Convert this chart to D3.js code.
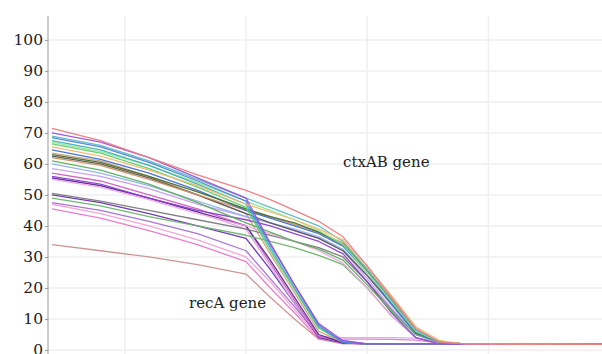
<!DOCTYPE html>
<html>
<head>
<meta charset="utf-8">
<script src="https://cdn.jsdelivr.net/npm/d3@7"></script>
<style>
  body { margin: 0; background: #fff; }
  #chart text { font-family: "DejaVu Serif", serif; fill: #222; }
</style>
</head>
<body>
<div id="chart"></div>
<script>
// reading points (shared x positions for every curve)
var xPoints = [0, 2, 4, 6, 8, 9, 10, 11, 12, 13, 14, 15, 16, 17, 22.7];
var yTicks = [0, 10, 20, 30, 40, 50, 60, 70, 80, 90, 100];
var xGrid = [3, 8, 13, 18];

// ctxAB curves (late drop)
var ctxRed     = [71.5, 67.5, 62, 56.5, 51.5, 48.5, 45, 41.5, 36.5, 27, 17, 7, 2.5, 2, 1.8];
var ctxTeal    = [69, 66, 61, 55, 49, 46, 43, 40, 35, 26, 16, 6.5, 2.5, 2, 1.8];
var ctxOrange  = [65.5, 62.5, 58, 53, 47, 44.5, 42, 39, 35.5, 27, 17.5, 7.5, 3, 2, 1.8];
var ctxOlive   = [63, 60.5, 56, 51, 45.5, 43, 41, 38, 34, 25.5, 16, 6, 2.5, 2, 1.8];
var ctxBlue    = [64.5, 61.5, 57, 51.5, 45, 42.5, 40, 37.5, 33.5, 25, 15, 5.5, 2.5, 2, 1.8];
var ctxLime    = [67, 64, 59.5, 54, 48, 45, 42, 38.5, 34, 25, 15.5, 6, 2.5, 2, 1.8];
var ctxGray    = [62.5, 60, 55.5, 50, 44, 41, 38.5, 36, 32, 24, 15, 5.5, 2.5, 2, 1.8];
var ctxPurple  = [56, 53.5, 49, 45, 42, 40, 37.5, 35, 31, 22, 12, 4, 2, 2, 1.8];
var ctxGreen   = [61, 58, 53.5, 47.5, 41, 38, 35, 32.5, 29, 21, 12.5, 5, 2.5, 2, 1.8];
var ctxViolet  = [58.5, 56, 52, 47, 43, 41, 38.5, 36, 32, 23, 13.5, 5, 2.2, 2, 1.8];
var ctxPink    = [55, 52.5, 48.5, 44, 40, 37.5, 35, 32, 28, 20, 11, 4, 2, 2, 1.8];
var ctxGreen2  = [49, 46.5, 43, 40, 37, 35, 33, 30.5, 27.5, 20, 11, 4, 2, 2, 1.8];
var ctxGray2   = [50.5, 48, 45, 42, 39, 37, 35, 33, 30, 22, 13, 5, 2.2, 2, 1.8];
var ctxSky     = [60, 57, 53, 48, 43, 41, 39, 36.5, 32.5, 24, 14.5, 5, 2.3, 2, 1.8];
var ctxTan     = [62, 59.5, 55, 50, 45, 43, 40.5, 38, 34.5, 26, 16.5, 6.5, 2.5, 2, 1.8];

// recA curves (early drop)
var recBlue    = [68.5, 65.5, 60.5, 54.5, 48, 34, 21, 8, 2.5, 2, 2, 2, 2, 1.8, 1.8];
var recTeal    = [67.5, 64.5, 59.5, 53.5, 47, 33, 20, 7.5, 2.5, 2, 2, 2, 2, 1.8, 1.8];
var recGreen   = [66.5, 63.5, 58.5, 52.5, 46, 32, 19.5, 7, 2.5, 2, 2, 2, 2, 1.8, 1.8];
var recPurple  = [70, 67, 62, 55.5, 49, 34.5, 21, 8.5, 3, 2, 2, 2, 2, 1.8, 1.8];
var recTan     = [63.5, 61, 56, 50, 44, 31, 18.5, 6, 2.5, 2, 2, 2, 2, 1.8, 1.8];
var recMagenta = [57, 54.5, 50, 45.5, 40, 28, 16, 4.5, 2.5, 2, 2, 2, 2, 1.8, 1.8];
var recLilac   = [55.5, 53, 49, 44.5, 39, 27, 15, 4.5, 4, 4, 4, 3.8, 2.2, 1.8, 1.8];
var recIndigo  = [50, 47.5, 44, 40, 36, 26, 15, 4, 2.2, 2, 2, 2, 2, 1.8, 1.8];
var recPink    = [45.5, 42.5, 38.5, 34, 28.5, 20, 12, 3.5, 3.5, 3.5, 3.4, 3.2, 2.2, 1.8, 1.8];
var recRose    = [47, 44, 40, 35.5, 30, 22, 13, 4, 2.2, 2, 2, 2, 2, 1.8, 1.8];
var recMauve   = [47.5, 45, 41.5, 37.5, 32, 23, 14, 4.5, 3, 2, 2, 2, 2, 1.8, 1.8];
var recBrown   = [34, 32, 30, 27.5, 24.5, 17, 10, 3.5, 2, 2, 2, 2, 2, 1.8, 1.8];
var recPlum    = [55.5, 53, 49, 44.5, 40, 29, 17, 5, 2.3, 2, 2, 2, 2, 1.8, 1.8];

var curves = [
  { values: recBrown, color: "#c99090" },
  { values: recPink, color: "#e878c8" },
  { values: recRose, color: "#f2a2d6" },
  { values: recMauve, color: "#a070d0" },
  { values: recIndigo, color: "#6a30b0" },
  { values: recLilac, color: "#dba6ea" },
  { values: recMagenta, color: "#cf5fc0" },
  { values: recPlum, color: "#5a2a90" },
  { values: recTan, color: "#caa382" },
  { values: ctxGreen2, color: "#6ab46a" },
  { values: ctxGray2, color: "#7a7a7a" },
  { values: ctxPink, color: "#f0a4e2" },
  { values: ctxPurple, color: "#8a3fd0" },
  { values: ctxViolet, color: "#c79cf0" },
  { values: ctxSky, color: "#8fb0f0" },
  { values: ctxGreen, color: "#5cae5c" },
  { values: ctxGray, color: "#555555" },
  { values: ctxTan, color: "#c89060" },
  { values: ctxBlue, color: "#3d6fcf" },
  { values: ctxOlive, color: "#4b6b28" },
  { values: ctxLime, color: "#90e890" },
  { values: ctxTeal, color: "#5bbcc0" },
  { values: recGreen, color: "#5ccc6a" },
  { values: recTeal, color: "#3fb0b8" },
  { values: recBlue, color: "#4f7fe0" },
  { values: recPurple, color: "#9a50e0" },
  { values: ctxOrange, color: "#f5b870" },
  { values: ctxRed, color: "#ec7a80" }
];

var width = 602, height = 354;
var padding = { top: 16, left: 48 };

var svg = d3.select("#chart").append("svg")
  .attr("width", width)
  .attr("height", height);

var xscale = d3.scaleLinear()
  .domain([-0.165, 22.68])
  .range([padding.left, width]);

var yscale = d3.scaleLinear()
  .domain([0, 107.7])
  .range([350, padding.top]);

// grid
svg.append("g")
  .selectAll("line")
  .data(yTicks)
  .enter().append("line")
  .attr("x1", padding.left).attr("x2", width)
  .attr("y1", function (d) { return yscale(d); })
  .attr("y2", function (d) { return yscale(d); })
  .attr("stroke", "#efefef")
  .attr("stroke-width", 1.5);

svg.append("g")
  .selectAll("line")
  .data(xGrid)
  .enter().append("line")
  .attr("x1", function (d) { return xscale(d); })
  .attr("x2", function (d) { return xscale(d); })
  .attr("y1", padding.top).attr("y2", height)
  .attr("stroke", "#efefef")
  .attr("stroke-width", 1.5);

// lines
var line = d3.line()
  .x(function (d, i) { return xscale(xPoints[i]); })
  .y(function (d) { return yscale(d); });

svg.append("g")
  .selectAll("path")
  .data(curves)
  .enter().append("path")
  .attr("d", function (d) { return line(d.values); })
  .attr("fill", "none")
  .attr("stroke", function (d) { return d.color; })
  .attr("stroke-width", 1.3)
  .attr("stroke-linejoin", "round")
  .attr("opacity", 0.95);

// y axis
var yAxis = d3.axisLeft(yscale)
  .tickValues(yTicks)
  .tickSize(3)
  .tickSizeOuter(0)
  .tickPadding(2);

var gy = svg.append("g")
  .attr("transform", "translate(" + padding.left + ",0)")
  .call(yAxis);
gy.select(".domain").attr("stroke", "#9a9a9a").attr("d", "M0," + padding.top + "V" + height);
gy.selectAll(".tick line").attr("stroke", "#9a9a9a");
gy.selectAll(".tick text").style("font-size", "15.5px").attr("fill", "#222");

// labels
svg.append("text")
  .attr("x", 343).attr("y", 167)
  .style("font-size", "15px")
  .text("ctxAB gene");

svg.append("text")
  .attr("x", 189).attr("y", 308)
  .style("font-size", "15px")
  .text("recA gene");
</script>
</body>
</html>
